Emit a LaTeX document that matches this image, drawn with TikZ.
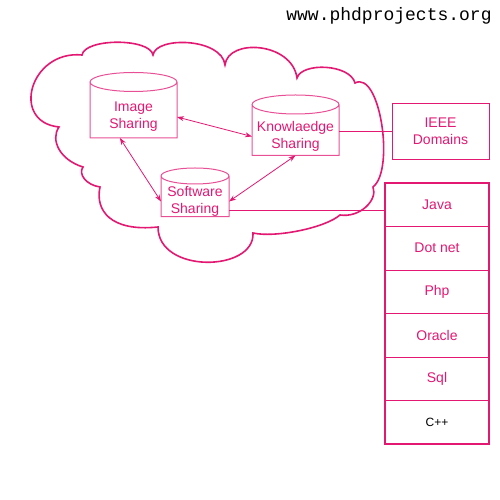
\documentclass[tikz,border=0pt]{standalone}
\usepackage{fontspec}
\setmainfont{Liberation Sans}
\newfontfamily\urlfont{Liberation Mono}
\usetikzlibrary{arrows.meta, positioning}
\definecolor{cloudpink}{RGB}{226,24,114}
\definecolor{dbpink}{RGB}{232,80,150}
\tikzset{
    sharediagram/.style={x=1pt, y=1pt, >={Stealth[length=7pt, width=5pt]},
        font=\fontsize{14}{17}\selectfont, text=cloudpink},
    cloudedge/.style={draw=cloudpink, line width=1.6pt},
    db/.style={align=center, inner sep=0pt, outer sep=0pt},
    dbline/.style={draw=dbpink, line width=1pt},
    link/.style={draw=cloudpink, line width=0.8pt, <->},
    wire/.style={draw=cloudpink, line width=0.9pt},
    domainbox/.style={draw=cloudpink, line width=0.9pt, align=center,
        minimum width=97pt, minimum height=56pt},
    langcell/.style={draw=cloudpink, line width=0.9pt, minimum width=104pt,
        minimum height=43.5pt, outer sep=0pt, inner sep=0pt},
}

\begin{document}
\begin{tikzpicture}[sharediagram]
    \useasboundingbox (0,0) rectangle (500,500);

    % the cloud
    \draw[cloudedge] (59,373) .. controls (10,378) and (30,450) .. (82,445)
        .. controls (85,462) and (150,462) .. (153,445)
        .. controls (156,464) and (222,462) .. (225,435)
        .. controls (228,462) and (292,458) .. (297,422)
        .. controls (302,438) and (350,436) .. (355,417)
        .. controls (380,430) and (395,330) .. (373,313)
        .. controls (378,300) and (360,282) .. (340,285)
        .. controls (325,272) and (275,262) .. (253,267)
        .. controls (255,228) and (158,226) .. (158,273)
        .. controls (110,268) and (95,290) .. (100,313)
        .. controls (86,315) and (78,326) .. (83,333)
        .. controls (60,340) and (50,360) .. (59,373) -- cycle;

    % databases inside the cloud
    \node[db, minimum width=87pt, minimum height=42pt] (img)  at (133.5,383)   {Image\\Sharing};
    \node[db, minimum width=87pt, minimum height=38pt] (know) at (295.5,363.5) {Knowlaedge\\Sharing};
    \node[db, minimum width=68pt, minimum height=27pt] (soft) at (195,298.5)   {Software\\Sharing};
    \foreach \n/\e/\rx/\ry in {img/35/43.5/9.5, know/32/43.5/9.5, soft/25.5/34/8}
        \draw[dbline] ([yshift=\e]\n.west) -- (\n.south west) -- (\n.south east) -- ([yshift=\e]\n.east)
            ([yshift=\e]\n.center) ellipse [x radius=\rx, y radius=\ry];

    \draw[link] (img.east) -- (know.west);
    \draw[link] (img.237) -- (soft.west);
    \draw[link] (know.south) -- (soft.east);

    % domains and languages
    \node[domainbox] (ieee) at (440.5,369) {IEEE\\Domains};

    \node[langcell] (java) at (437,295.25) {Java};
    \node[langcell, below=0pt of java]   (dotnet) {Dot net};
    \node[langcell, below=0pt of dotnet] (php)    {Php};
    \node[langcell, below=0pt of php]    (oracle) {Oracle};
    \node[langcell, below=0pt of oracle] (sql)    {Sql};
    \node[langcell, below=0pt of sql, text=black, font=\fontsize{12}{14}\selectfont] (cpp) {C++};
    \draw[cloudpink, line width=1.8pt] (java.north west) rectangle (cpp.south east);

    \draw[wire] (ieee.west) -- (ieee.west -| know.east);
    \draw[wire] (soft.346) -- (soft.346 -| java.west);

    \node[font=\urlfont\fontsize{18}{20}\selectfont, text=black, anchor=base] (url) at (389,479.3) {www.phdprojects.org};
\end{tikzpicture}
\end{document}
